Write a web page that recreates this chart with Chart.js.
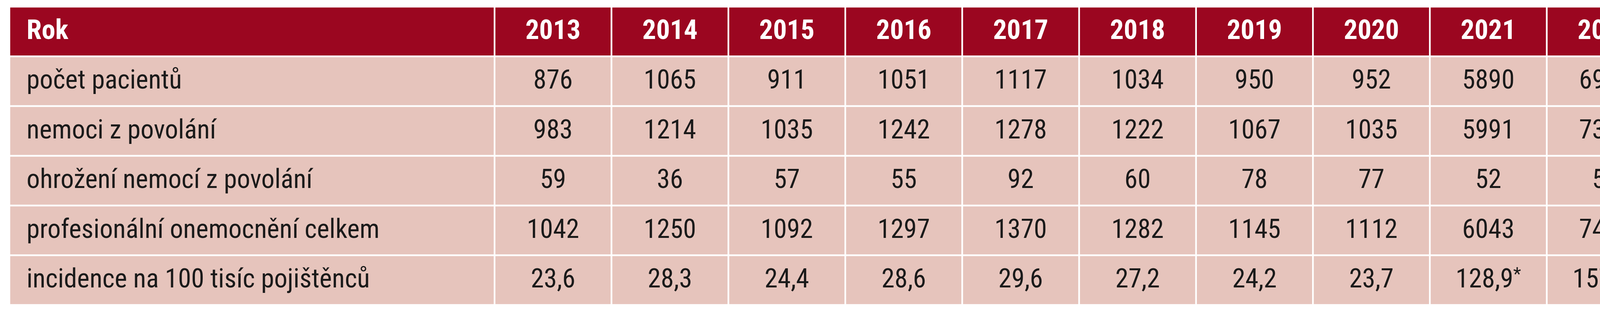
<!DOCTYPE html>
<html>
<head>
<meta charset="utf-8">
<script src="https://cdn.jsdelivr.net/npm/chart.js@4"></script>
<style>
  html, body { margin: 0; padding: 0; background: #fff; overflow: hidden; }
  canvas { display: block; }
</style>
</head>
<body>
<canvas id="tbl" width="4276" height="800" style="width:4276px;height:800px"></canvas>
<script>
var headerLabel = 'Rok';
var years = ['2013', '2014', '2015', '2016', '2017', '2018', '2019', '2020', '2021', '2022'];
var rowLabels = ['počet pacientů', 'nemoci z povolání', 'ohrožení nemocí z povolání',
                 'profesionální onemocnění celkem', 'incidence na 100 tisíc pojištěnců'];
var pacienti = [876, 1065, 911, 1051, 1117, 1034, 950, 952, 5890, 6996];
var nemoci = [983, 1214, 1035, 1242, 1278, 1222, 1067, 1035, 5991, 7383];
var ohrozeni = [59, 36, 57, 55, 92, 60, 78, 77, 52, 56];
var celkem = [1042, 1250, 1092, 1297, 1370, 1282, 1145, 1112, 6043, 7439];
var incidence = [23.6, 28.3, 24.4, 28.6, 29.6, 27.2, 24.2, 23.7, 128.9, 157.6];
var incidenceNote = ['', '', '', '', '', '', '', '', '*', '*'];

var rows = [pacienti, nemoci, ohrozeni, celkem, incidence];
var labelWidth = 4.15; // width of the first column in year-column units
var headColor = '#9b0620';
var cellColor = '#e6c4bc';
var font = '"Liberation Sans Narrow", "Roboto Condensed", "Liberation Sans", sans-serif';

var yCats = [headerLabel].concat(rowLabels);

function fmt(r, i) {
    var v = rows[r][i];
    if (r === 4) return v.toFixed(1).replace('.', ',');
    return String(v);
}

// one dataset per table column, each cell a floating horizontal bar
var datasets = [];
var colorsFirst = yCats.map(function (c, k) { return k === 0 ? headColor : cellColor; });
datasets.push({
    data: yCats.map(function () { return [0, labelWidth]; }),
    backgroundColor: colorsFirst
});
years.forEach(function (y, i) {
    datasets.push({
        data: yCats.map(function () { return [labelWidth + i, labelWidth + i + 1]; }),
        backgroundColor: colorsFirst
    });
});
datasets.forEach(function (d) {
    d.borderColor = '#ffffff';
    d.borderWidth = 2.5;
    d.borderSkipped = false;
    d.categoryPercentage = 1;
    d.barPercentage = 1;
    d.grouped = false;
});

var textPlugin = {
    id: 'cellText',
    afterDatasetsDraw: function (chart) {
        var ctx = chart.ctx;
        var xs = chart.scales.x, ys = chart.scales.y;
        ctx.save();
        ctx.textBaseline = 'middle';
        yCats.forEach(function (cat, r) {
            var cy = ys.getPixelForValue(r) + 2;
            var head = r === 0;
            var main = (head ? 'bold 70px ' : '68px ') + font;
            ctx.fillStyle = head ? '#ffffff' : '#1a1a1a';
            ctx.font = main;
            ctx.textAlign = 'left';
            ctx.fillText(cat, xs.getPixelForValue(0) + 44, cy);
            years.forEach(function (y, i) {
                var cx = xs.getPixelForValue(labelWidth + i + 0.5);
                var txt = head ? y : fmt(r - 1, i);
                var note = (!head && r === 5) ? incidenceNote[i] : '';
                ctx.font = main;
                var w = ctx.measureText(txt).width;
                ctx.font = '46px ' + font;
                var nw = note ? ctx.measureText(note).width : 0;
                var x0 = cx - (w + nw) / 2;
                ctx.font = main;
                ctx.textAlign = 'left';
                ctx.fillText(txt, x0, cy);
                if (note) {
                    ctx.font = '46px ' + font;
                    ctx.fillText(note, x0 + w, cy - 14);
                }
            });
        });
        ctx.restore();
    }
};

new Chart(document.getElementById('tbl').getContext('2d'), {
    type: 'bar',
    data: { labels: yCats, datasets: datasets },
    options: {
        indexAxis: 'y',
        responsive: false,
        animation: false,
        layout: { padding: { left: 24, right: 17, top: 17, bottom: 18 } },
        plugins: { legend: { display: false }, tooltip: { enabled: false } },
        scales: {
            x: { type: 'linear', min: 0, max: labelWidth + years.length, display: false },
            y: { type: 'category', display: false, offset: true }
        }
    },
    plugins: [textPlugin]
});
</script>
</body>
</html>
